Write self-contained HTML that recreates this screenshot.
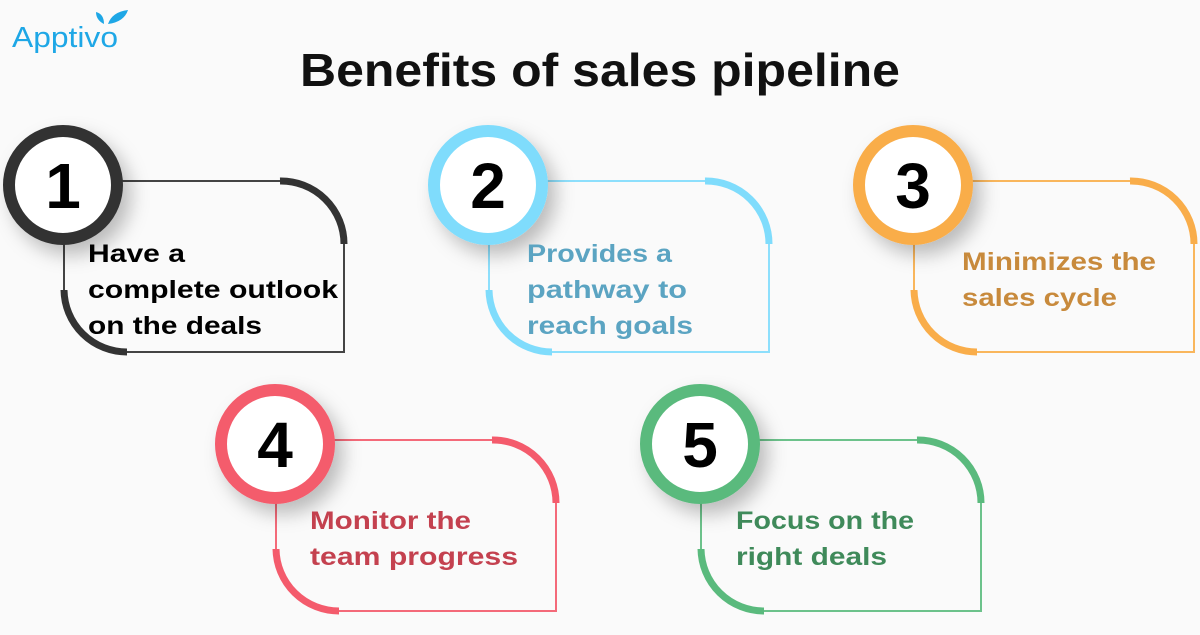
<!DOCTYPE html>
<html><head><meta charset="utf-8"><style>
body{margin:0;width:1200px;height:630px;background:#fafafa;overflow:hidden;font-family:"Liberation Sans",sans-serif}
</style></head><body>
<svg width="1200" height="630" xmlns="http://www.w3.org/2000/svg">
<defs>
<filter id="sh" x="-50%" y="-50%" width="200%" height="200%"><feDropShadow dx="8" dy="10" stdDeviation="9" flood-color="#000" flood-opacity="0.25"/></filter>
</defs>
<text x="12" y="47" font-family="Liberation Sans" font-size="29" fill="#1ea7e6" textLength="106" lengthAdjust="spacingAndGlyphs">Apptivo</text>
<path d="M108 24 q4 -12 20 -14 q-4 12 -20 14z M104 24 q-8 -4 -8 -12 q8 2 8 12z" fill="#1ea7e6"/>
<text x="300" y="86" font-family="Liberation Sans" font-weight="bold" font-size="46" fill="#111" textLength="600" lengthAdjust="spacingAndGlyphs">Benefits of sales pipeline</text>
<g font-family="Liberation Sans" font-weight="bold">
<g>
<path d="M64 181 H282 A62 62 0 0 1 344 243 V352 H126 A62 62 0 0 1 64 290 Z" fill="none" stroke="#444" stroke-width="2"/>
<path d="M280 181 A63 63 0 0 1 344 244" fill="none" stroke="#333" stroke-width="7"/>
<path d="M64 290 A63 63 0 0 0 127 352" fill="none" stroke="#333" stroke-width="7"/>
<circle cx="63" cy="185" r="54" fill="#fff" stroke="#333" stroke-width="12" filter="url(#sh)"/>
<text x="63" y="208" text-anchor="middle" font-size="64" fill="#000">1</text>
<text x="88" y="262" font-size="25" textLength="97" lengthAdjust="spacingAndGlyphs">Have a</text>
<text x="88" y="298" font-size="25" textLength="250" lengthAdjust="spacingAndGlyphs">complete outlook</text>
<text x="88" y="334" font-size="25" textLength="174" lengthAdjust="spacingAndGlyphs">on the deals</text>
</g>
<g transform="translate(425,0)" fill="#5ba4c2">
<path d="M64 181 H282 A62 62 0 0 1 344 243 V352 H126 A62 62 0 0 1 64 290 Z" fill="none" stroke="#8ddffc" stroke-width="2"/>
<path d="M280 181 A63 63 0 0 1 344 244" fill="none" stroke="#7fdcfc" stroke-width="7"/>
<path d="M64 290 A63 63 0 0 0 127 352" fill="none" stroke="#7fdcfc" stroke-width="7"/>
<circle cx="63" cy="185" r="54" fill="#fff" stroke="#7fdcfc" stroke-width="12" filter="url(#sh)"/>
<text x="63" y="208" text-anchor="middle" font-size="64" fill="#000">2</text>
<text x="102" y="262" font-size="25" textLength="145" lengthAdjust="spacingAndGlyphs">Provides a</text>
<text x="102" y="298" font-size="25" textLength="160" lengthAdjust="spacingAndGlyphs">pathway to</text>
<text x="102" y="334" font-size="25" textLength="166" lengthAdjust="spacingAndGlyphs">reach goals</text>
</g>
<g transform="translate(850,0)" fill="#c88a3c">
<path d="M64 181 H282 A62 62 0 0 1 344 243 V352 H126 A62 62 0 0 1 64 290 Z" fill="none" stroke="#f9b65c" stroke-width="2"/>
<path d="M280 181 A63 63 0 0 1 344 244" fill="none" stroke="#f9ad4a" stroke-width="7"/>
<path d="M64 290 A63 63 0 0 0 127 352" fill="none" stroke="#f9ad4a" stroke-width="7"/>
<circle cx="63" cy="185" r="54" fill="#fff" stroke="#f9ad4a" stroke-width="12" filter="url(#sh)"/>
<text x="63" y="208" text-anchor="middle" font-size="64" fill="#000">3</text>
<text x="112" y="270" font-size="25" textLength="194" lengthAdjust="spacingAndGlyphs">Minimizes the</text>
<text x="112" y="306" font-size="25" textLength="155" lengthAdjust="spacingAndGlyphs">sales cycle</text>
</g>
<g transform="translate(212,259)" fill="#c4414f">
<path d="M64 181 H282 A62 62 0 0 1 344 243 V352 H126 A62 62 0 0 1 64 290 Z" fill="none" stroke="#f46a79" stroke-width="2"/>
<path d="M280 181 A63 63 0 0 1 344 244" fill="none" stroke="#f45b6c" stroke-width="7"/>
<path d="M64 290 A63 63 0 0 0 127 352" fill="none" stroke="#f45b6c" stroke-width="7"/>
<circle cx="63" cy="185" r="54" fill="#fff" stroke="#f45b6c" stroke-width="12" filter="url(#sh)"/>
<text x="63" y="208" text-anchor="middle" font-size="64" fill="#000">4</text>
<text x="98" y="270" font-size="25" textLength="161" lengthAdjust="spacingAndGlyphs">Monitor the</text>
<text x="98" y="306" font-size="25" textLength="208" lengthAdjust="spacingAndGlyphs">team progress</text>
</g>
<g transform="translate(637,259)" fill="#3f8a5a">
<path d="M64 181 H282 A62 62 0 0 1 344 243 V352 H126 A62 62 0 0 1 64 290 Z" fill="none" stroke="#6cc28b" stroke-width="2"/>
<path d="M280 181 A63 63 0 0 1 344 244" fill="none" stroke="#5aba7d" stroke-width="7"/>
<path d="M64 290 A63 63 0 0 0 127 352" fill="none" stroke="#5aba7d" stroke-width="7"/>
<circle cx="63" cy="185" r="54" fill="#fff" stroke="#5aba7d" stroke-width="12" filter="url(#sh)"/>
<text x="63" y="208" text-anchor="middle" font-size="64" fill="#000">5</text>
<text x="99" y="270" font-size="25" textLength="178" lengthAdjust="spacingAndGlyphs">Focus on the</text>
<text x="99" y="306" font-size="25" textLength="151" lengthAdjust="spacingAndGlyphs">right deals</text>
</g>
</g>
</svg>
</body></html>
